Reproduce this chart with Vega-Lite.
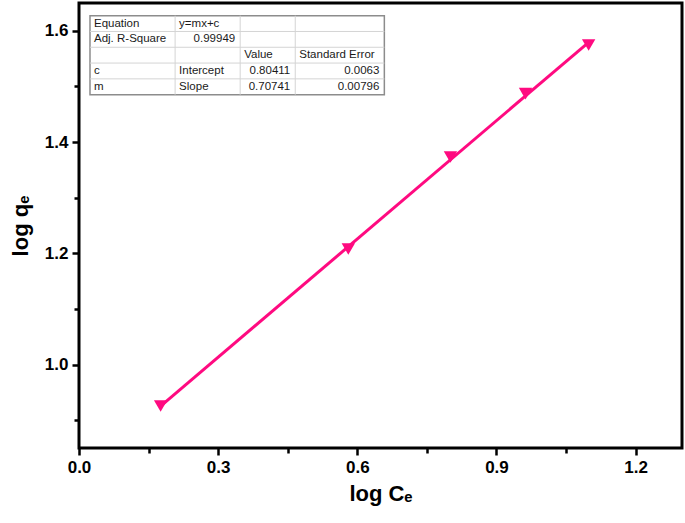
{
  "$schema": "https://vega.github.io/schema/vega-lite/v6.json",
  "width": 603,
  "height": 445,
  "autosize": "none",
  "padding": {"left": 79, "top": 3, "right": 3, "bottom": 75},
  "background": "white",
  "config": {
    "view": {"stroke": "black", "strokeWidth": 3},
    "font": "Liberation Sans",
    "axis": {
      "domain": false,
      "grid": false,
      "labelFlush": false,
      "tickColor": "black",
      "tickWidth": 2.5,
      "labelFont": "Liberation Sans",
      "labelFontWeight": "bold",
      "labelFontSize": 17,
      "labelColor": "black",
      "titleFont": "Liberation Sans",
      "titleFontWeight": "bold",
      "titleFontSize": 22,
      "titleColor": "black"
    }
  },
  "datasets": {
    "points": [
      {"x": 0.176, "y": 0.9255},
      {"x": 0.5806, "y": 1.2077},
      {"x": 0.8008, "y": 1.3731},
      {"x": 0.9627, "y": 1.487},
      {"x": 1.0987, "y": 1.5745}
    ],
    "hlines": [
      {"x": 0.0237, "x2": 0.6583, "y": 1.5988},
      {"x": 0.0237, "x2": 0.6583, "y": 1.5704},
      {"x": 0.0237, "x2": 0.6583, "y": 1.542},
      {"x": 0.0237, "x2": 0.6583, "y": 1.5136}
    ],
    "vlines": [
      {"x": 0.2072, "y": 1.6272, "y2": 1.4852},
      {"x": 0.3475, "y": 1.6272, "y2": 1.4852},
      {"x": 0.4662, "y": 1.6272, "y2": 1.4852}
    ],
    "frame": [
      {"x": 0.0237, "x2": 0.6583, "y": 1.6272, "y2": 1.4852}
    ],
    "leftText": [
      {"x": 0.0237, "y": 1.613, "t": "Equation"},
      {"x": 0.2072, "y": 1.613, "t": "y=mx+c"},
      {"x": 0.0237, "y": 1.5846, "t": "Adj. R-Square"},
      {"x": 0.3475, "y": 1.5562, "t": "Value"},
      {"x": 0.4662, "y": 1.5562, "t": "Standard Error"},
      {"x": 0.0237, "y": 1.5278, "t": "c"},
      {"x": 0.2072, "y": 1.5278, "t": "Intercept"},
      {"x": 0.0237, "y": 1.4994, "t": "m"},
      {"x": 0.2072, "y": 1.4994, "t": "Slope"}
    ],
    "rightText": [
      {"x": 0.3475, "y": 1.5846, "t": "0.99949"},
      {"x": 0.4662, "y": 1.5278, "t": "0.80411"},
      {"x": 0.6583, "y": 1.5278, "t": "0.0063"},
      {"x": 0.4662, "y": 1.4994, "t": "0.70741"},
      {"x": 0.6583, "y": 1.4994, "t": "0.00796"}
    ]
  },
  "layer": [
    {
      "data": {"name": "points"},
      "transform": [{"regression": "y", "on": "x"}],
      "mark": {"type": "line", "color": "#FF0A80", "strokeWidth": 3},
      "encoding": {
        "x": {
          "field": "x",
          "type": "quantitative",
          "scale": {"domain": [0, 1.3], "nice": false, "zero": false},
          "axis": {
            "title": "log Cₑ",
            "values": [0, 0.15, 0.3, 0.45, 0.6, 0.75, 0.9, 1.05, 1.2],
            "labelExpr": "round(datum.value*100) % 30 == 0 ? format(datum.value, '.1f') : ''",
            "tickSize": {"condition": {"test": "round(datum.value*100) % 30 == 0", "value": 7}, "value": 5},
            "labelPadding": 4,
            "titlePadding": 8
          }
        },
        "y": {
          "field": "y",
          "type": "quantitative",
          "scale": {"domain": [0.85, 1.65], "nice": false, "zero": false},
          "axis": {
            "title": "log qₑ",
            "values": [0.9, 1.0, 1.1, 1.2, 1.3, 1.4, 1.5, 1.6],
            "labelExpr": "round(datum.value*10) % 2 == 0 ? format(datum.value, '.1f') : ''",
            "tickSize": {"condition": {"test": "round(datum.value*10) % 2 == 0", "value": 7}, "value": 5},
            "labelPadding": 4,
            "titlePadding": 12
          }
        }
      }
    },
    {
      "data": {"name": "points"},
      "mark": {"type": "point", "shape": "triangle-down", "filled": true, "color": "#FF0A80", "opacity": 1, "size": 180},
      "encoding": {
        "x": {"field": "x", "type": "quantitative"},
        "y": {"field": "y", "type": "quantitative"}
      }
    },
    {
      "data": {"name": "frame"},
      "mark": {"type": "rect", "fill": "white", "stroke": "#8c8c8c", "strokeWidth": 1.5},
      "encoding": {
        "x": {"field": "x", "type": "quantitative"},
        "x2": {"field": "x2"},
        "y": {"field": "y", "type": "quantitative"},
        "y2": {"field": "y2"}
      }
    },
    {
      "data": {"name": "hlines"},
      "mark": {"type": "rule", "color": "#d4d4d4", "strokeWidth": 1},
      "encoding": {
        "x": {"field": "x", "type": "quantitative"},
        "x2": {"field": "x2"},
        "y": {"field": "y", "type": "quantitative"}
      }
    },
    {
      "data": {"name": "vlines"},
      "mark": {"type": "rule", "color": "#d4d4d4", "strokeWidth": 1},
      "encoding": {
        "x": {"field": "x", "type": "quantitative"},
        "y": {"field": "y", "type": "quantitative"},
        "y2": {"field": "y2"}
      }
    },
    {
      "data": {"name": "leftText"},
      "mark": {"type": "text", "align": "left", "baseline": "middle", "dx": 4, "fontSize": 11.5, "font": "Liberation Sans", "color": "#1a1a1a"},
      "encoding": {
        "x": {"field": "x", "type": "quantitative"},
        "y": {"field": "y", "type": "quantitative"},
        "text": {"field": "t"}
      }
    },
    {
      "data": {"name": "rightText"},
      "mark": {"type": "text", "align": "right", "baseline": "middle", "dx": -5, "fontSize": 11.5, "font": "Liberation Sans", "color": "#1a1a1a"},
      "encoding": {
        "x": {"field": "x", "type": "quantitative"},
        "y": {"field": "y", "type": "quantitative"},
        "text": {"field": "t"}
      }
    }
  ]
}
